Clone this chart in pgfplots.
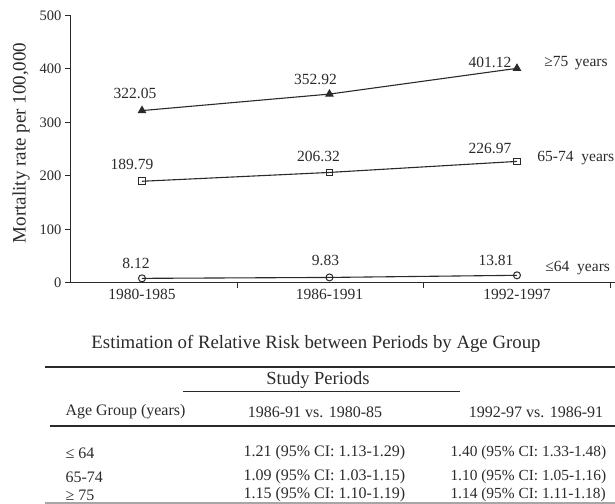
\documentclass[border=0pt]{standalone}
\usepackage{pgfplots}
\pgfplotsset{compat=1.18}
\usepackage{fontspec}
\setmainfont{Liberation Serif}
\newcommand{\fs}[1]{\fontsize{#1bp}{#1bp}\selectfont}
\definecolor{ink}{HTML}{2A2A2A}
\begin{document}
\begin{tikzpicture}[x=1bp,y=1bp]
\useasboundingbox (0,0) rectangle (615,504);
\begin{axis}[
  at={(70bp,221.3bp)}, anchor=south west,
  scale only axis, width=545bp, height=267.2bp,
  xmin=-0.384, xmax=2.523, ymin=0, ymax=500,
  axis x line=bottom, axis y line=left,
  axis line style={-, line width=1bp, color=ink},
  every tick/.style={line width=0.9bp, color=ink},
  xtick={0.508,1.5,2.5}, xticklabels={},
  extra x ticks={0,1,2},
  extra x tick labels={1980-1985,1986-1991,1992-1997},
  extra x tick style={major tick length=0pt, tick label style={font=\fs{15.5}, color=ink, yshift=-3bp}},
  ytick={0,100,...,500},
  yticklabel style={font=\fs{14.5}, color=ink},
  tick align=outside, major tick length=5bp,
  clip=false,
  /pgf/number format/assume math mode=true,
]
\addplot[ink, line width=1.1bp, mark=triangle*, mark size=4bp, mark options={fill=ink}]
  coordinates {(0,322.05) (1,352.92) (2,401.12)};
\addplot[ink, line width=1.1bp, mark=square, mark size=3.3bp, mark options={fill=white, line width=1bp}]
  coordinates {(0,189.79) (1,206.32) (2,226.97)};
\addplot[ink, line width=1.1bp, mark=o, mark size=3.5bp, mark options={fill=white, line width=1bp}]
  coordinates {(0,8.12) (1,9.83) (2,13.81)};
\begin{scope}[every node/.style={font=\fs{15.5}, text=ink}]
\node[xshift=-7bp, yshift=17bp] at (axis cs:0,322.05) {322.05};
\node[xshift=-14bp, yshift=15bp] at (axis cs:1,352.92) {352.92};
\node[xshift=-27bp, yshift=6bp] at (axis cs:2,401.12) {401.12};
\node[xshift=-10bp, yshift=17bp] at (axis cs:0,189.79) {189.79};
\node[xshift=-11bp, yshift=16bp] at (axis cs:1,206.32) {206.32};
\node[xshift=-27bp, yshift=13bp] at (axis cs:2,226.97) {226.97};
\node[xshift=-6bp, yshift=15bp] at (axis cs:0,8.12) {8.12};
\node[xshift=-4bp, yshift=17bp] at (axis cs:1,9.83) {9.83};
\node[xshift=-21bp, yshift=15bp] at (axis cs:2,13.81) {13.81};
\node[anchor=west, xshift=24bp, yshift=5bp] at (axis cs:2,401.12) {≥75\,\ years};
\node[anchor=west, xshift=17bp, yshift=3bp] at (axis cs:2,226.97) {65-74\ \ years};
\node[anchor=west, xshift=25bp, yshift=7bp] at (axis cs:2,13.81) {≤64\ \ years};
\end{scope}
\end{axis}
% y label
\node[rotate=90, font=\fs{19}, text=ink] at (21,361) {Mortality rate per 100,000};
% table
\node[font=\fs{18.8}, text=ink] at (316,160) {Estimation of Relative Risk between Periods by Age Group};
\draw[ink, line width=1.3bp] (45,137) -- (615,137);
\node[font=\fs{18.5}, text=ink] at (318,124) {Study Periods};
\draw[ink, line width=1bp] (183,112) -- (460,112);
\begin{scope}[every node/.style={font=\fs{16}, text=ink}]
\node[anchor=west] at (62,92) {Age Group (years)};
\node at (315,92) {1986-91 vs. 1980-85};
\node at (536,92) {1992-97 vs. 1986-91};
\end{scope}
\draw[ink, line width=1.3bp] (50,78) -- (615,78);
\begin{scope}[every node/.style={font=\fs{16}, text=ink, anchor=west}]
\node at (62,51) {≤ 64};
\node at (62,27) {65-74};
\node at (62,9) {≥ 75};
\node at (240,51) {1.21 (95\% CI: 1.13-1.29)};
\node at (240,27) {1.09 (95\% CI: 1.03-1.15)};
\node at (240,9) {1.15 (95\% CI: 1.10-1.19)};
\end{scope}
\begin{scope}[every node/.style={font=\fs{15.4}, text=ink, anchor=west}]
\node at (447,51) {1.40 (95\% CI: 1.33-1.48)};
\node at (447,27) {1.10 (95\% CI: 1.05-1.16)};
\node at (447,9) {1.14 (95\% CI: 1.11-1.18)};
\end{scope}
\draw[black!35, line width=2bp] (45,1) -- (615,1);
\end{tikzpicture}
\end{document}
